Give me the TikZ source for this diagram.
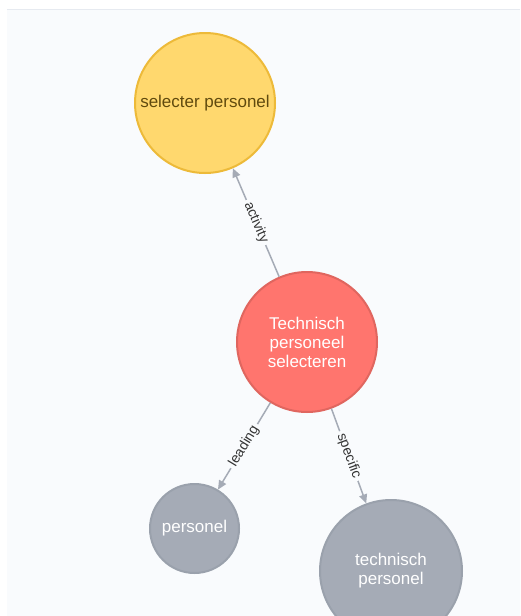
\documentclass[tikz,border=0pt]{standalone}
\usepackage{fontspec}
\setmainfont{Liberation Sans}
\usetikzlibrary{arrows.meta}
\definecolor{panel}{HTML}{F9FBFD}
\definecolor{rule}{HTML}{E6EAF0}
\definecolor{yelfill}{HTML}{FFD86E}
\definecolor{yeldraw}{HTML}{EDBA39}
\definecolor{yeltext}{HTML}{604A0E}
\definecolor{redfill}{HTML}{FF756E}
\definecolor{reddraw}{HTML}{E0665F}
\definecolor{grayfill}{HTML}{A5ABB6}
\definecolor{graydraw}{HTML}{9AA1AC}
\definecolor{edge}{HTML}{A5ABB6}
\definecolor{lbltext}{HTML}{333333}
\begin{document}
\begin{tikzpicture}[x=1pt,y=-1pt,
  ent/.style={circle,line width=2pt,align=center,inner sep=0pt,
    font=\fontsize{17}{19}\selectfont},
  yel/.style={ent,fill=yelfill,draw=yeldraw,text=yeltext},
  hub/.style={ent,fill=redfill,draw=reddraw,text=white},
  grey/.style={ent,fill=grayfill,draw=graydraw,text=white},
  rel/.style={draw=edge,line width=1.5pt,-{Triangle[length=9pt,width=8pt]}},
  lbl/.style={sloped,fill=panel,inner sep=3pt,text=lbltext,
    font=\fontsize{14}{14}\selectfont}]
\useasboundingbox (0,0) rectangle (520,616);
\clip (0,0) rectangle (520,616);
\fill[white] (0,0) rectangle (520,616);
\fill[panel] (7,9) rectangle (520,616);
\draw[rule,line width=1pt] (7,9) -- (520,9);

\node[yel,minimum size=140pt] (sel) at (205,103) {selecter personel};
\node[hub,minimum size=140pt] (tps) at (307,342) {Technisch\\personeel\\selecteren};
\node[grey,minimum size=89pt] (pers) at (194.5,528.5) {personel};
\node[grey,minimum size=142pt] (tech) at (391,571) {technisch\\personel};

\draw[rel] (tps) -- node[lbl] {activity} (sel);
\draw[rel] (tps) -- node[lbl] {leading} (pers);
\draw[rel] (tps) -- node[lbl] {specific} (tech);
\end{tikzpicture}
\end{document}
